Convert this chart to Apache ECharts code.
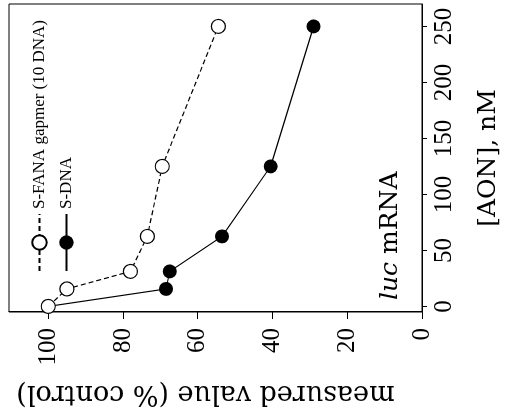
<!DOCTYPE html>
<html>
<head>
<meta charset="utf-8">
<script src="https://cdn.jsdelivr.net/npm/echarts@6/dist/echarts.min.js"></script>
<style>
  html, body { margin: 0; padding: 0; background: #fff; overflow: hidden; }
  /* the figure is printed turned a quarter turn, so draw it upright and rotate the box */
  #main {
    position: absolute; left: 0; top: 0;
    width: 420px; height: 512px;
    transform-origin: 0 0;
    transform: translate(0, 420px) rotate(-90deg);
  }
</style>
</head>
<body>
<div id="main"></div>
<script>
var aonNM = [0, 15.6, 31.25, 62.5, 125, 250];
var sFanaGapmer = [100, 95, 78, 73.5, 69.5, 54.5];
var sDna = [100, 68.5, 67.5, 53.5, 40.5, 29];
var aonTicks = [0, 50, 100, 150, 200, 250];
var valueTicks = [0, 20, 40, 60, 80, 100];

function pairs(ys) {
	return aonNM.map(function (x, i) { return [x, ys[i]]; });
}

var labelFont = 'Liberation Serif';
var nameFont = 'DejaVu Serif';

var chart = echarts.init(document.getElementById('main'));
var option = {
	animation: false,
	backgroundColor: '#fff',
	grid: {
		left: 108, right: 4, top: 9, bottom: 90,
		show: true, borderColor: '#000', borderWidth: 1
	},
	legend: {
		orient: 'vertical',
		left: 143, top: 26,
		itemWidth: 57, itemHeight: 18, itemGap: 10,
		textStyle: { fontFamily: labelFont, fontSize: 17, color: '#000' },
		data: ['S-FANA gapmer (10 DNA)', 'S-DNA']
	},
	xAxis: {
		type: 'value',
		min: -5, max: 270,
		name: '[AON], nM',
		nameLocation: 'middle',
		nameGap: 54,
		nameTextStyle: { fontFamily: nameFont, fontSize: 25, color: '#000' },
		axisLine: { onZero: false, lineStyle: { color: '#000', width: 1 } },
		axisTick: { show: true, inside: false, length: 5, customValues: aonTicks, lineStyle: { color: '#000' } },
		axisLabel: { customValues: aonTicks, fontFamily: labelFont, fontSize: 25, color: '#000', margin: 10 },
		splitLine: { show: false }
	},
	yAxis: {
		type: 'value',
		min: 0, max: 110.5,
		name: 'measured value (% control)',
		nameLocation: 'middle',
		nameGap: 68,
		nameTextStyle: { fontFamily: nameFont, fontSize: 27, color: '#000', padding: [0, 0, 0, 20] },
		axisLine: { show: true, onZero: false, lineStyle: { color: '#000', width: 1 } },
		axisTick: { show: true, inside: false, length: 7, customValues: valueTicks, lineStyle: { color: '#000' } },
		axisLabel: { customValues: valueTicks, fontFamily: labelFont, fontSize: 25, color: '#000', margin: 16 },
		splitLine: { show: false }
	},
	graphic: [{
		type: 'text',
		left: 120, top: 378,
		style: {
			text: '{i|luc} mRNA',
			font: '25px "DejaVu Serif"',
			fill: '#000',
			rich: { i: { fontFamily: 'DejaVu Serif', fontSize: 25, fontStyle: 'italic', fill: '#000' } }
		}
	}],
	series: [{
		name: 'S-DNA',
		type: 'line',
		z: 2,
		data: pairs(sDna),
		symbol: 'circle',
		symbolSize: 14,
		itemStyle: { color: '#000' },
		lineStyle: { color: '#000', width: 1.2 }
	}, {
		name: 'S-FANA gapmer (10 DNA)',
		type: 'line',
		z: 3,
		data: pairs(sFanaGapmer),
		symbol: 'circle',
		symbolSize: 14,
		itemStyle: { color: '#fff', borderColor: '#000', borderWidth: 1.2 },
		lineStyle: { color: '#000', width: 1.2, type: [5, 3] }
	}]
};
chart.setOption(option);
</script>
</body>
</html>
